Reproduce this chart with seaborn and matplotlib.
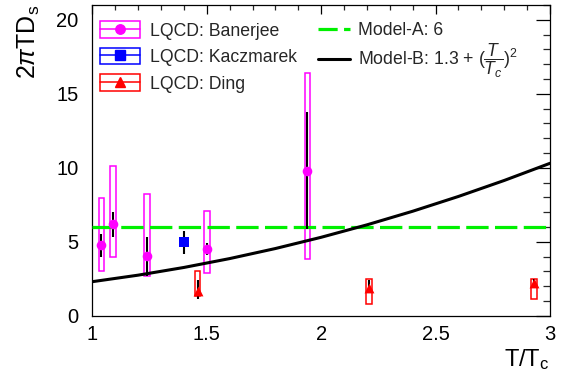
import matplotlib
matplotlib.use('Agg')
import matplotlib.pyplot as plt
import seaborn as sns
import numpy as np
from matplotlib.patches import Rectangle
from matplotlib.lines import Line2D
from matplotlib.legend_handler import HandlerTuple
from matplotlib.ticker import MultipleLocator, FuncFormatter

# ---------------- data ----------------
ban_x = [1.04, 1.09, 1.24, 1.50, 1.94]
ban_y = [4.8, 6.2, 4.05, 4.5, 9.8]
ban_stat_lo = [4.0, 5.3, 2.7, 4.1, 5.85]
ban_stat_hi = [5.55, 7.0, 5.35, 4.9, 13.75]
ban_sys_lo = [3.05, 3.95, 2.7, 2.9, 3.85]
ban_sys_hi = [7.95, 10.15, 8.2, 7.1, 16.4]

kac_x = [1.40]
kac_y = [4.95]
kac_stat_lo = [4.2]
kac_stat_hi = [5.75]

ding_x = [1.46, 2.21, 2.93]
ding_y = [1.65, 1.85, 2.2]
ding_stat_lo = [1.15, 1.55, 1.9]
ding_stat_hi = [2.4, 2.4, 2.5]
ding_sys_lo = [1.3, 0.8, 1.15]
ding_sys_hi = [3.0, 2.5, 2.5]

modelA_x = [1.0, 3.0]
modelA_y = [6.0, 6.0]
modelB_x = [1.0, 1.2, 1.4, 1.6, 1.8, 2.0, 2.2, 2.4, 2.6, 2.8, 3.0]
modelB_y = [2.3, 2.74, 3.26, 3.86, 4.54, 5.3, 6.14, 7.06, 8.06, 9.14, 10.3]

x_ticks = [1, 1.5, 2, 2.5, 3]
y_ticks = [0, 5, 10, 15, 20]

labels_lqcd = ['LQCD: Banerjee', 'LQCD: Kaczmarek', 'LQCD: Ding']
label_A = 'Model-A: 6'
label_B = r'Model-B: 1.3 + $(\dfrac{T}{T_c})^2$'

MAG = '#ff00ff'
BLU = '#0000ff'
RED = '#ff0000'
GRN = '#00f000'

# ---------------- style ----------------
sns.set_theme(style='white')
plt.rcParams['font.family'] = ['Liberation Sans', 'DejaVu Sans']
plt.rcParams['mathtext.fontset'] = 'custom'
plt.rcParams['mathtext.rm'] = 'Liberation Sans'
plt.rcParams['mathtext.it'] = 'Liberation Sans:italic'
plt.rcParams['mathtext.bf'] = 'Liberation Sans:bold'

fig = plt.figure(figsize=(5.72, 3.83), dpi=100)
ax = fig.add_axes([0.1614, 0.1757, 0.8001, 0.8113])

box_w = 0.025
# systematic boxes
ax.bar(ban_x, np.subtract(ban_sys_hi, ban_sys_lo), bottom=ban_sys_lo, width=box_w,
       fill=False, edgecolor=MAG, linewidth=1.1, zorder=2)
ax.bar(ding_x, np.subtract(ding_sys_hi, ding_sys_lo), bottom=ding_sys_lo, width=box_w,
       fill=False, edgecolor=RED, linewidth=1.1, zorder=2)

# model curves
sns.lineplot(x=modelA_x, y=modelA_y, ax=ax, color=GRN, linewidth=2.3,
             linestyle=(0, (7, 2)), zorder=3)
sns.lineplot(x=modelB_x, y=modelB_y, ax=ax, color='black', linewidth=2.2, zorder=3)

# statistical errors
ax.vlines(ban_x, ban_stat_lo, ban_stat_hi, color='black', linewidth=1.5, zorder=4)
ax.vlines(kac_x, kac_stat_lo, kac_stat_hi, color='black', linewidth=1.5, zorder=4)
ax.vlines(ding_x, ding_stat_lo, ding_stat_hi, color='black', linewidth=1.5, zorder=4)

# markers
sns.scatterplot(x=ban_x, y=ban_y, ax=ax, marker='o', s=48, color=MAG, edgecolor=MAG,
                linewidth=0, zorder=5)
sns.scatterplot(x=kac_x, y=kac_y, ax=ax, marker='s', s=55, color=BLU, edgecolor=BLU,
                linewidth=0, zorder=5)
sns.scatterplot(x=ding_x, y=ding_y, ax=ax, marker='^', s=50, color=RED, edgecolor=RED,
                linewidth=0, zorder=5)

# axes
ax.set_xlim(1, 3)
ax.set_ylim(0, 21)
ax.xaxis.set_major_locator(plt.FixedLocator(x_ticks))
ax.yaxis.set_major_locator(plt.FixedLocator(y_ticks))
ax.xaxis.set_minor_locator(MultipleLocator(0.1))
ax.yaxis.set_minor_locator(MultipleLocator(1))
ax.xaxis.set_major_formatter(FuncFormatter(lambda v, p: f'{v:g}'))
ax.yaxis.set_major_formatter(FuncFormatter(lambda v, p: f'{v:g}'))
for s in ax.spines.values():
    s.set_linewidth(0.9)
    s.set_color('black')
ax.tick_params(axis='x', which='major', direction='in', top=True, length=6.5, width=0.9,
               labelsize=14.5, pad=7, colors='black')
ax.tick_params(axis='x', which='minor', direction='in', top=True, length=3.6, width=0.9)
ax.tick_params(axis='y', which='major', direction='in', right=True, length=10, width=0.9,
               labelsize=14.5, pad=10, colors='black')
ax.tick_params(axis='y', which='minor', direction='in', right=True, length=5, width=0.9)

ax.set_xlabel(r'T/T$_\mathrm{c}$', loc='right', fontsize=17, labelpad=2, color='black')
ax.set_ylabel(r'2$\pi$TD$_\mathrm{s}$', loc='top', fontsize=18, labelpad=10, color='black')

# legends
h_ban = (Rectangle((0, 0), 1, 1, fill=False, edgecolor=MAG, lw=1.1),
         Line2D([], [], color=MAG, marker='o', ms=6.8, lw=1.1))
h_kac = (Rectangle((0, 0), 1, 1, fill=False, edgecolor=BLU, lw=1.1),
         Line2D([], [], color=BLU, marker='s', ms=7.2, lw=1.1))
h_ding = (Rectangle((0, 0), 1, 1, fill=False, edgecolor=RED, lw=1.1),
          Line2D([], [], color=RED, marker='^', ms=7, lw=1.1))
hmap = {tuple: HandlerTuple(ndivide=1, pad=0)}

leg1 = ax.legend(handles=[h_ban, h_kac, h_ding], labels=labels_lqcd, handler_map=hmap,
                 loc='upper left', bbox_to_anchor=(0.0168, 0.947), frameon=False,
                 fontsize=12.7, handlelength=2.26, handleheight=1.05, handletextpad=0.55,
                 labelspacing=0.47, borderpad=0, borderaxespad=0)
ax.add_artist(leg1)

hA = Line2D([], [], color=GRN, lw=2.3, linestyle=(0, (6, 2)))
legA = ax.legend(handles=[hA], labels=[label_A], loc='center left',
                 bbox_to_anchor=(0.493, 0.917), frameon=False, fontsize=12.7,
                 handlelength=1.8, handletextpad=0.45, borderpad=0, borderaxespad=0)
ax.add_artist(legA)
hB = Line2D([], [], color='black', lw=2.2)
legB = ax.legend(handles=[hB], labels=[label_B], loc='center left',
                 bbox_to_anchor=(0.493, 0.82), frameon=False, fontsize=12.7,
                 handlelength=1.8, handletextpad=0.45, borderpad=0, borderaxespad=0)

fig.savefig('out.png', dpi=100)
